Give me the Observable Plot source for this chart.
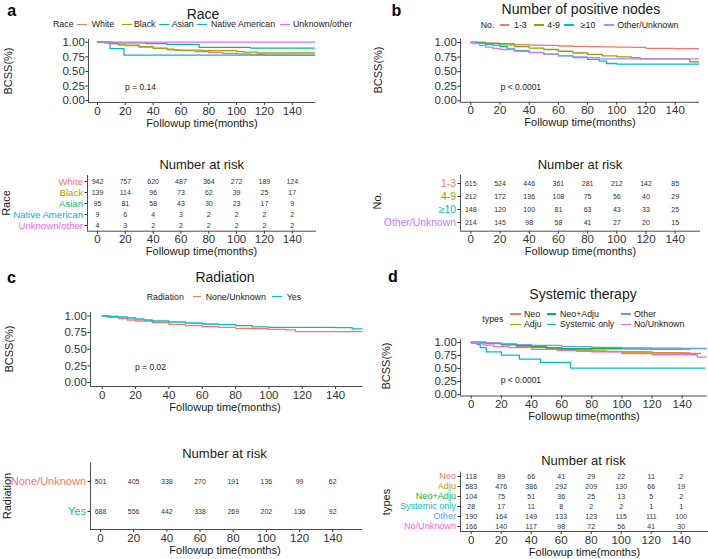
<!DOCTYPE html>
<html><head><meta charset="utf-8">
<script src="https://cdn.jsdelivr.net/npm/d3@7"></script>
<script src="https://cdn.jsdelivr.net/npm/@observablehq/plot@0.6"></script>
<style>
body{margin:0;background:#fff;font-family:'Liberation Sans',Arial,sans-serif;}
#root{position:relative;width:708px;height:559px;overflow:hidden;background:#fff;}
.t{position:absolute;white-space:nowrap;line-height:1;color:#1a1a1a;}
.k{position:absolute;height:1.4px;}
</style></head><body><div id="root"></div>
<script>
// ---------- shared ticks ----------
const timeTicks = [0, 20, 40, 60, 80, 100, 120, 140];
const survTicks = [0, 0.25, 0.5, 0.75, 1];

// ---------- a. Race ----------
const raceGroups = ["White", "Black", "Asian", "Native American", "Unknown/other"];
const raceColors = ["#F8766D", "#A3A500", "#00BF7D", "#00B0F6", "#E76BF3"];
const raceWhite = [[0,1],[5,0.985],[10,0.97],[15,0.955],[20,0.94],[30,0.915],[40,0.895],[50,0.87],[60,0.855],[70,0.84],[80,0.825],[90,0.81],[100,0.8],[110,0.79],[120,0.78],[140,0.775],[156,0.775]];
const raceBlack = [[0,1],[8,0.98],[15,0.96],[20,0.95],[30,0.925],[40,0.9],[50,0.88],[55,0.865],[75,0.855],[100,0.84],[105,0.83],[115,0.815],[156,0.815]];
const raceAsian = [[0,1],[12,0.99],[35,0.977],[50,0.962],[73,0.91],[110,0.9],[156,0.9]];
const raceNative = [[0,1],[9,0.889],[19,0.778],[156,0.778]];
const raceUnknown = [[0,1],[156,1]];
const raceRiskWhite = [942, 757, 620, 487, 364, 272, 189, 124];
const raceRiskBlack = [139, 114, 96, 73, 62, 39, 25, 17];
const raceRiskAsian = [95, 81, 58, 43, 30, 23, 17, 9];
const raceRiskNative = [9, 6, 4, 3, 2, 2, 2, 2];
const raceRiskUnknown = [4, 3, 2, 2, 2, 2, 2, 2];

// ---------- b. Number of positive nodes ----------
const nodeGroups = ["1-3", "4-9", "\u226510", "Other/Unknown"];
const nodeColors = ["#F8766D", "#7CAE00", "#00BFC4", "#C77CFF"];
const node13 = [[0,1],[10,0.99],[20,0.98],[30,0.965],[40,0.955],[50,0.95],[60,0.94],[70,0.935],[80,0.93],[90,0.925],[100,0.92],[110,0.915],[120,0.9],[140,0.895],[157,0.895]];
const node49 = [[0,1],[10,0.985],[20,0.96],[30,0.93],[40,0.905],[50,0.88],[60,0.85],[70,0.82],[80,0.795],[90,0.77],[100,0.755],[110,0.74],[116,0.72],[150,0.67],[157,0.67]];
const node10 = [[0,1],[5,0.99],[10,0.97],[15,0.955],[20,0.93],[25,0.89],[30,0.86],[40,0.83],[50,0.8],[60,0.77],[70,0.74],[80,0.71],[88,0.68],[93,0.64],[100,0.63],[157,0.625]];
const nodeOther = [[0,1],[3,0.98],[6,0.95],[10,0.92],[15,0.9],[20,0.88],[30,0.85],[40,0.825],[50,0.8],[60,0.775],[70,0.755],[80,0.74],[88,0.72],[157,0.715]];
const nodeRisk13 = [615, 524, 446, 361, 281, 212, 142, 85];
const nodeRisk49 = [212, 172, 136, 108, 75, 56, 40, 29];
const nodeRisk10 = [148, 120, 100, 81, 63, 43, 33, 25];
const nodeRiskOther = [214, 145, 98, 58, 41, 27, 20, 15];

// ---------- c. Radiation ----------
const radGroups = ["None/Unknown", "Yes"];
const radColors = ["#F8766D", "#00BFC4"];
const radNone = [[0,1],[3,0.98],[10,0.96],[15,0.94],[20,0.925],[30,0.9],[40,0.875],[50,0.855],[60,0.84],[70,0.83],[80,0.815],[90,0.81],[100,0.8],[110,0.79],[116,0.765],[156,0.765]];
const radYes = [[0,1],[5,0.995],[10,0.985],[15,0.97],[20,0.955],[25,0.94],[30,0.925],[40,0.91],[50,0.895],[60,0.88],[70,0.87],[80,0.855],[90,0.835],[100,0.83],[140,0.825],[150,0.805],[156,0.805]];
const radRiskNone = [501, 405, 338, 270, 191, 136, 99, 62];
const radRiskYes = [688, 556, 442, 338, 269, 202, 136, 92];

// ---------- d. Systemic therapy ----------
const sysGroups = ["Neo", "Adju", "Neo+Adju", "Systemic only", "Other", "No/Unknown"];
const sysColors = ["#F8766D", "#B79F00", "#00BA38", "#00BFC4", "#619CFF", "#F564E3"];
const sysNeo = [[0,1],[10,0.98],[20,0.95],[30,0.92],[40,0.9],[50,0.87],[60,0.85],[80,0.83],[100,0.82],[120,0.8],[145,0.8]];
const sysAdju = [[0,1],[10,0.985],[20,0.965],[30,0.94],[40,0.92],[50,0.895],[60,0.87],[70,0.855],[80,0.84],[90,0.825],[100,0.815],[120,0.8],[140,0.79],[152,0.79]];
const sysNeoAdju = [[0,1],[10,0.985],[20,0.965],[30,0.94],[40,0.915],[50,0.895],[60,0.88],[113,0.875],[145,0.875]];
const sysOnly = [[0,1],[4,0.96],[6,0.9],[10,0.82],[20,0.76],[32,0.68],[46,0.62],[66,0.51],[155,0.51]];
const sysOther = [[0,1],[10,0.99],[20,0.975],[30,0.96],[40,0.945],[60,0.92],[80,0.905],[100,0.895],[120,0.89],[140,0.885],[156,0.88]];
const sysNoUnk = [[0,1],[3,0.98],[8,0.95],[15,0.92],[25,0.9],[40,0.87],[57,0.85],[70,0.83],[80,0.82],[100,0.785],[120,0.77],[147,0.765],[150,0.72],[157,0.71]];
const sysRiskNeo = [118, 89, 66, 41, 29, 22, 11, 2];
const sysRiskAdju = [583, 476, 386, 292, 209, 130, 66, 19];
const sysRiskNeoAdju = [104, 75, 51, 36, 25, 13, 5, 2];
const sysRiskOnly = [28, 17, 11, 8, 2, 2, 1, 1];
const sysRiskOther = [190, 164, 149, 133, 123, 115, 111, 100];
const sysRiskNoUnk = [166, 140, 117, 98, 72, 56, 41, 30];

// ---------- drawing helpers ----------
const FONT = "'Liberation Sans', Arial, sans-serif";
const AX = "#4d4d4d";
const STYLE = {background: "transparent", fontFamily: FONT, fontSize: "11.5px", color: "#333", overflow: "visible"};
const root = document.getElementById("root");

function place(svg, ox, oy) {
  svg.style.position = "absolute";
  svg.style.left = ox + "px";
  svg.style.top = oy + "px";
  root.appendChild(svg);
}
function txt(s, x, y, o = {}) {
  const d = document.createElement("div");
  d.className = "t";
  d.textContent = s;
  d.style.left = x + "px";
  d.style.top = y + "px";
  d.style.fontSize = (o.size || 11) + "px";
  if (o.color) d.style.color = o.color;
  if (o.weight) d.style.fontWeight = o.weight;
  const a = o.anchor || "middle";
  const tx = a === "middle" ? "-50%" : a === "end" ? "-100%" : "0";
  d.style.transform = o.rotate ? "translate(-50%,-50%) rotate(-90deg)" : `translate(${tx},-50%)`;
  root.appendChild(d);
}
function key(x1, x2, y, color) {
  const d = document.createElement("div");
  d.className = "k";
  d.style.left = x1 + "px";
  d.style.width = (x2 - x1) + "px";
  d.style.top = (y - 0.7) + "px";
  d.style.background = color;
  root.appendChild(d);
}

function kmChart(o) {
  const unit = o.y0 - o.y1;
  const xd = [(o.L - o.x0) / o.xk, (o.R - o.x0) / o.xk];
  const yd = [-(o.B - o.y0) / unit, 1 + (o.y1 - o.T) / unit];
  const rows = o.groups.flatMap((g, i) => o.curves[i].map(([t, s]) => ({g, t, s})));
  const svg = Plot.plot({
    width: o.w, height: o.h,
    marginLeft: o.L - o.ox, marginTop: o.T - o.oy,
    marginRight: o.ox + o.w - o.R, marginBottom: o.oy + o.h - o.B,
    x: {domain: xd}, y: {domain: yd},
    color: {domain: o.groups, range: o.colors},
    style: STYLE,
    marks: [
      Plot.axisX({ticks: timeTicks, tickSize: 3, tickPadding: 1, label: null}),
      Plot.axisY({ticks: survTicks, tickFormat: d3.format(".2f"), tickSize: 2.7, tickPadding: 1, label: null}),
      Plot.ruleX([xd[0]], {stroke: AX}),
      Plot.ruleY([yd[0]], {stroke: AX}),
      Plot.line(rows, {x: "t", y: "s", z: "g", stroke: "g", curve: "step-after", strokeWidth: 1.3, clip: true})
    ]
  });
  place(svg, o.ox, o.oy);
}

function riskTable(o) {
  const xd = [(o.L - o.x0) / o.xk, (o.R - o.x0) / o.xk];
  const rows = o.groups.flatMap((g, i) => o.risks[i].map((n, j) => ({g, t: timeTicks[j], n})));
  const svg = Plot.plot({
    width: o.w, height: o.h,
    marginLeft: o.L - o.ox, marginTop: o.T - o.oy,
    marginRight: o.ox + o.w - o.R, marginBottom: o.oy + o.h - o.B,
    x: {domain: xd},
    y: {type: "point", domain: o.groups, padding: o.pad},
    color: {domain: o.groups, range: o.colors},
    style: STYLE,
    marks: [
      Plot.axisX({ticks: timeTicks, tickSize: 3, tickPadding: 1, label: null}),
      Plot.axisY({tickSize: 2.5, tickFormat: () => "", label: null}),
      Plot.ruleX([xd[0]], {stroke: AX}),
      Plot.frame({anchor: "bottom", stroke: AX}),
      Plot.text(rows, {x: "t", y: "g", text: d => String(d.n), fontSize: 7, fill: "#333"}),
      Plot.text(o.groups, {x: () => xd[0], y: d => d, text: d => d, fill: d => d, textAnchor: "end", dx: -4.5, fontSize: o.labelSize})
    ]
  });
  place(svg, o.ox, o.oy);
}

// ---------- panel a ----------
kmChart({groups: raceGroups, colors: raceColors,
  curves: [raceWhite, raceBlack, raceAsian, raceNative, raceUnknown],
  ox: 0, oy: 30, w: 354, h: 100, L: 88, T: 38.8, R: 315, B: 102, x0: 97, xk: 1.391, y1: 41.7, y0: 100.2});
riskTable({groups: raceGroups, colors: raceColors,
  risks: [raceRiskWhite, raceRiskBlack, raceRiskAsian, raceRiskNative, raceRiskUnknown],
  ox: 0, oy: 168, w: 354, h: 80, L: 87, T: 175, R: 315, B: 230.7, x0: 97, xk: 1.391, pad: 0.53, labelSize: 9.6});
txt("a", 11.7, 11.2, {size: 16, weight: "bold", color: "#000"});
txt("Race", 203, 14, {size: 14});
txt("Race", 53, 24.3, {size: 8.8, anchor: "start"});
[[77, 87, 91.7], [122, 132, 134], [159, 169, 171.7], [197, 207, 211], [280, 290, 293]].forEach(([k1, k2, tx], i) => {
  key(k1, k2, 24.3, raceColors[i]);
  txt(raceGroups[i], tx, 24.3, {size: 8.8, anchor: "start"});
});
txt("p = 0.14", 125, 86.6, {size: 8.5, anchor: "start"});
txt("BCSS(%)", 7.5, 71, {rotate: true});
txt("Followup time(months)", 202, 122.5);
txt("Number at risk", 201.7, 164, {size: 13});
txt("Race", 6, 202.5, {rotate: true});
txt("Followup time(months)", 201.5, 251);

// ---------- panel b ----------
kmChart({groups: nodeGroups, colors: nodeColors,
  curves: [node13, node49, node10, nodeOther],
  ox: 354, oy: 30, w: 354, h: 100, L: 460, T: 38.8, R: 699, B: 101.8, x0: 470.3, xk: 1.46, y1: 42, y0: 100.3});
riskTable({groups: nodeGroups, colors: nodeColors,
  risks: [nodeRisk13, nodeRisk49, nodeRisk10, nodeRiskOther],
  ox: 354, oy: 168, w: 354, h: 80, L: 460, T: 175, R: 699, B: 230.7, x0: 470.3, xk: 1.46, pad: 0.55, labelSize: 10.4});
txt("b", 396.5, 11.2, {size: 16, weight: "bold", color: "#000"});
txt("Number of positive nodes", 581, 8.5, {size: 14});
txt("No.", 480.7, 25, {size: 8.8, anchor: "start"});
[[500, 509, 514], [534, 544, 547.3], [564, 574, 580.7], [604, 614, 617.3]].forEach(([k1, k2, tx], i) => {
  key(k1, k2, 25, nodeColors[i]);
  txt(nodeGroups[i], tx, 25, {size: 8.8, anchor: "start"});
});
txt("p < 0.0001", 500.7, 86.7, {size: 8.5, anchor: "start"});
txt("BCSS(%)", 378, 70, {rotate: true});
txt("Followup time(months)", 580, 122.3);
txt("Number at risk", 580, 164, {size: 13});
txt("No.", 377, 201, {rotate: true});
txt("Followup time(months)", 580.5, 251);

// ---------- panel c ----------
kmChart({groups: radGroups, colors: radColors,
  curves: [radNone, radYes],
  ox: 0, oy: 305, w: 370, h: 100, L: 90, T: 312.2, R: 362.7, B: 386, x0: 101.7, xk: 1.667, y1: 315.5, y0: 382});
riskTable({groups: radGroups, colors: radColors,
  risks: [radRiskNone, radRiskYes],
  ox: 0, oy: 455, w: 370, h: 95, L: 90, T: 462.7, R: 361, B: 529, x0: 100, xk: 1.659, pad: 0.6, labelSize: 11});
txt("c", 11.5, 277.9, {size: 16, weight: "bold", color: "#000"});
txt("Radiation", 225, 276.8, {size: 14});
txt("Radiation", 146.7, 296.7, {size: 8.8, anchor: "start"});
[[192.7, 200.7, 205.7], [271.7, 281.7, 286.7]].forEach(([k1, k2, tx], i) => {
  key(k1, k2, 296.7, radColors[i]);
  txt(radGroups[i], tx, 296.7, {size: 8.8, anchor: "start"});
});
txt("p = 0.02", 135, 366.5, {size: 8.5, anchor: "start"});
txt("BCSS(%)", 9, 348.5, {rotate: true});
txt("Followup time(months)", 225, 407);
txt("Number at risk", 224.5, 452.5, {size: 13});
txt("Radiation", 7, 496, {rotate: true});
txt("Followup time(months)", 225, 550.3);

// ---------- panel d ----------
kmChart({groups: sysGroups, colors: sysColors,
  curves: [sysNeo, sysAdju, sysNeoAdju, sysOnly, sysOther, sysNoUnk],
  ox: 354, oy: 330, w: 354, h: 86, L: 460, T: 339.4, R: 706.7, B: 395.5, x0: 470.7, xk: 1.507, y1: 342, y0: 394.2});
riskTable({groups: sysGroups, colors: sysColors,
  risks: [sysRiskNeo, sysRiskAdju, sysRiskNeoAdju, sysRiskOnly, sysRiskOther, sysRiskNoUnk],
  ox: 354, oy: 466, w: 354, h: 84, L: 460, T: 471.7, R: 707.3, B: 531, x0: 470.7, xk: 1.5, pad: 0.4, labelSize: 9.1});
txt("d", 393, 277, {size: 16, weight: "bold", color: "#000"});
txt("Systemic therapy", 583, 294.3, {size: 14});
txt("types", 482.3, 319.3, {size: 8.8, anchor: "start"});
[[510, 520.7, 524, 314], [510, 520.7, 524, 324.3], [546.7, 555.7, 560, 314], [546.7, 555.7, 560, 324.3], [620.7, 630.7, 634, 314], [620.7, 630.7, 634, 324.3]].forEach(([k1, k2, tx, y], i) => {
  key(k1, k2, y, sysColors[i]);
  txt(sysGroups[i], tx, y, {size: 8.8, anchor: "start"});
});
txt("p < 0.0001", 500.7, 380, {size: 8.5, anchor: "start"});
txt("BCSS(%)", 386, 366, {rotate: true});
txt("Followup time(months)", 584, 416.2);
txt("Number at risk", 583.5, 460, {size: 13});
txt("types", 386, 502, {rotate: true});
txt("Followup time(months)", 584.5, 552.3);
</script></body></html>
